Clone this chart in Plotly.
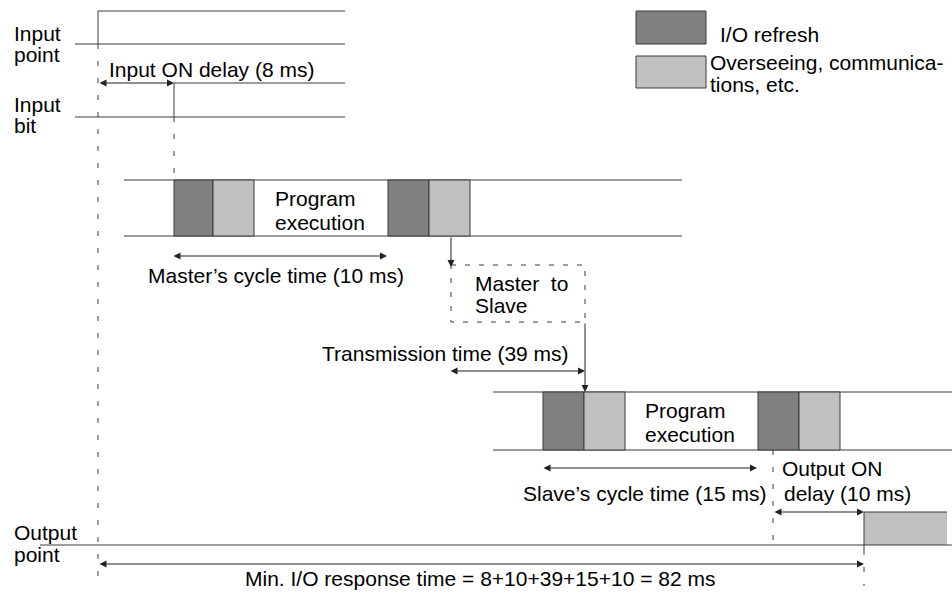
import plotly.graph_objects as go

# ---- data (diagram time axis, in diagram units) ----
delays_ms = [8, 10, 39, 15, 10]
total_ms = 82

row_labels = [("Input", "point"), ("Input", "bit"), ("Output", "point")]

# event instants along the diagram's time axis
t_input_on = 98
t_input_bit_on = 174
t_master_send = 451
t_slave_recv = 585
t_output_start = 773
t_output_on = 864

# cycle blocks: (kind, start, end)
master_blocks = [("io", 174, 213), ("ovs", 213, 254), ("io", 388, 429), ("ovs", 429, 470)]
slave_blocks = [("io", 543, 584), ("ovs", 584, 625), ("io", 758, 799), ("ovs", 799, 840)]

legend_items = [("io", "I/O refresh"), ("ovs", "Overseeing, communica-|tions, etc.")]

delay_texts = [
    "Input ON delay (%d ms)" % delays_ms[0],
    "Master\u2019s cycle time (%d ms)" % delays_ms[1],
    "Transmission time (%d ms)" % delays_ms[2],
    "Slave\u2019s cycle time (%d ms)" % delays_ms[3],
    "delay (%d ms)" % delays_ms[4],
]
total_text = "Min. I/O response time = " + "+".join(str(d) for d in delays_ms) + " = %d ms" % total_ms

# ---- styles ----
DARK = "#808080"
LIGHT = "#c0c0c0"
LINE = "#3a3a3a"
DASHC = "#3a3a3a"
FONT = "Liberation Sans, Arial, sans-serif"
FS = 21
fill = {"io": DARK, "ovs": LIGHT}

shapes = []
annotations = []


def line(x0, y0, x1, y1, dash=None, color=LINE, width=1):
    d = dict(type="line", x0=x0, y0=y0, x1=x1, y1=y1, xref="x", yref="y",
             line=dict(color=color, width=width))
    if dash:
        d["line"]["dash"] = dash
    shapes.append(d)


def rect(x0, y0, x1, y1, color, dash=None, lc=LINE):
    d = dict(type="rect", x0=x0, y0=y0, x1=x1, y1=y1, xref="x", yref="y",
             fillcolor=color, line=dict(color=lc, width=1))
    if dash:
        d["line"]["dash"] = dash
    shapes.append(d)


def text(x, y, s, anchor="left", size=FS):
    annotations.append(dict(x=x, y=y, xref="x", yref="y", text=s, showarrow=False,
                            xanchor=anchor, yanchor="middle",
                            font=dict(family=FONT, size=size, color="#000")))


def arrow(x0, y0, x1, y1, both=True):
    annotations.append(dict(x=x1, y=y1, ax=x0, ay=y0, xref="x", yref="y", axref="x", ayref="y",
                            text="", showarrow=True, arrowhead=2, arrowsize=1.4, arrowwidth=1,
                            arrowcolor="#222", standoff=0, startstandoff=0,
                            startarrowhead=2, startarrowsize=1.4,
                            arrowside="end+start" if both else "end"))


DASH_V = "5px,12px"

# ---- input point ----
line(75, 44, 345, 44)
line(t_input_on, 11, 345, 11)
line(t_input_on, 11, t_input_on, 44)
text(12, 33, row_labels[0][0]); text(12, 54, row_labels[0][1])

# ---- input bit ----
line(75, 117, 345, 117)
line(t_input_bit_on, 83, 345, 83)
line(t_input_bit_on, 83, t_input_bit_on, 117)
text(12, 104, row_labels[1][0]); text(12, 125, row_labels[1][1])
arrow(t_input_on, 83, t_input_bit_on, 83)
text(107, 69, delay_texts[0])

# dashed verticals
line(t_input_on, 44, t_input_on, 586, dash=DASH_V, color=DASHC)
line(t_input_bit_on, 117, t_input_bit_on, 180, dash=DASH_V, color=DASHC)

# ---- master cycle ----
line(124, 180, 682, 180)
line(124, 236, 682, 236)
for k, a, b in master_blocks:
    rect(a, 180, b, 236, fill[k])
text(273, 198, "Program"); text(273, 222, "execution")
arrow(t_input_bit_on - 2, 256, master_blocks[2][1] - 1, 256)
text(276, 275, delay_texts[1], anchor="center")

# master -> slave
arrow(t_master_send, 236, t_master_send, 267, both=False)
rect(t_master_send, 265, t_slave_recv, 322, "rgba(0,0,0,0)", dash="5px,9px", lc=DASHC)
text(473, 283, "Master\u00a0 to"); text(473, 305, "Slave")
arrow(t_slave_recv, 322, t_slave_recv, 392, both=False)
arrow(t_master_send - 2, 371, t_slave_recv, 371)
text(571, 353, delay_texts[2], anchor="right")

# ---- slave cycle ----
line(493, 392, 952, 392)
line(493, 450, 952, 450)
for k, a, b in slave_blocks:
    rect(a, 392, b, 450, fill[k])
text(643, 410, "Program"); text(643, 434, "execution")
arrow(slave_blocks[0][1] - 1, 468, slave_blocks[2][1] - 1, 468)
text(769, 493, delay_texts[3], anchor="right")
text(780, 468, "Output ON"); text(782, 493, delay_texts[4])

# ---- output point ----
line(t_output_start, 450, t_output_start, 545, dash=DASH_V, color=DASHC)
rect(t_output_on, 512, 947, 545, LIGHT, lc="rgba(0,0,0,0)")
line(t_output_on, 512, 947, 512)
line(t_output_on, 512, t_output_on, 550)
line(40, 545, 952, 545)
line(t_output_on, 550, t_output_on, 586, dash=DASH_V, color=DASHC)
arrow(t_output_start, 512, t_output_on, 512)
text(12, 532, row_labels[2][0]); text(12, 554, row_labels[2][1])
arrow(t_input_on, 564, t_output_on, 564)
text(480, 578, total_text, anchor="center")

# ---- legend ----
ly = [(11, 44), (56, 88)]
for (k, lab), (y0, y1) in zip(legend_items, ly):
    rect(636, y0, 706, y1, fill[k])
text(718, 34, legend_items[0][1].split("|")[0])
parts = legend_items[1][1].split("|")
text(708, 62, parts[0]); text(708, 84, parts[1])

fig = go.Figure()
fig.add_trace(go.Scatter(x=[0, 952], y=[0, 596], mode="markers", marker=dict(opacity=0),
                         hoverinfo="skip", showlegend=False))
fig.update_layout(
    width=952, height=596, margin=dict(l=0, r=0, t=0, b=0),
    paper_bgcolor="white", plot_bgcolor="white",
    xaxis=dict(range=[0, 952], visible=False, fixedrange=True),
    yaxis=dict(range=[596, 0], visible=False, fixedrange=True),
    shapes=shapes, annotations=annotations, showlegend=False,
)
fig.write_html("out.html", config={"displayModeBar": False},
               post_script="document.body.style.margin='0';document.body.style.overflow='hidden';")
